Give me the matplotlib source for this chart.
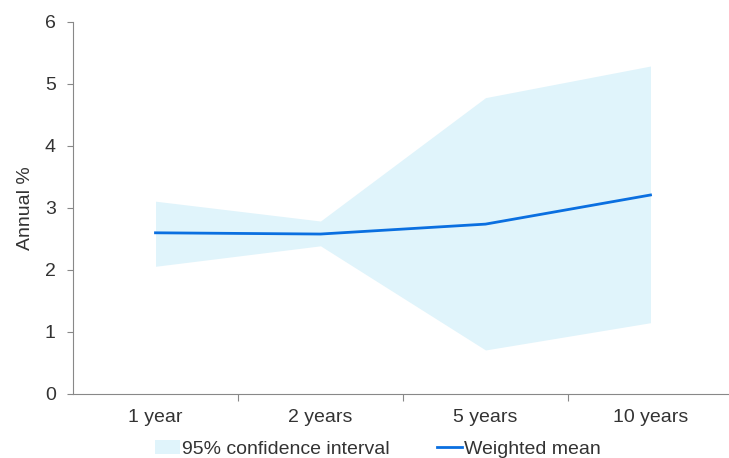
import numpy as np
import matplotlib.pyplot as plt

plt.rcParams['font.family'] = ['Liberation Sans', 'DejaVu Sans']

horizons = ['1 year', '2 years', '5 years', '10 years']
weighted_mean = [2.60, 2.58, 2.74, 3.21]
ci_upper = [3.11, 2.79, 4.78, 5.29]
ci_lower = [2.06, 2.39, 0.71, 1.15]

fig = plt.figure(figsize=(7.29, 4.58), dpi=100)
ax = fig.add_axes([73 / 729, 64 / 458, 660 / 729, 372 / 458])

x = np.arange(len(horizons))
ax.fill_between(x, ci_lower, ci_upper, color='#e0f4fb', linewidth=0,
                label='95% confidence interval')
ax.plot(x, weighted_mean, color='#0a6fe0', linewidth=2, label='Weighted mean')

ax.set_xlim(-0.5, len(horizons) - 0.5)
ax.set_ylim(0, 6)
ax.set_yticks(range(0, 7))

# labels at categories, tick marks between them
ax.set_xticks(x, minor=True)
ax.set_xticklabels(horizons, minor=True)
ax.set_xticks(x[:-1] + 0.5)
ax.set_xticklabels([])
ax.tick_params(axis='x', which='minor', length=0, pad=11, labelsize=14, labelcolor='#333333')
ax.tick_params(axis='x', which='major', length=5, color='#888888')
ax.tick_params(axis='y', length=4.5, pad=8, color='#888888', labelsize=14, labelcolor='#333333')

for side in ['top', 'right']:
    ax.spines[side].set_visible(False)
for side in ['left', 'bottom']:
    ax.spines[side].set_color('#888888')

ax.set_ylabel('Annual %', fontsize=14, color='#333333', labelpad=8)

fig.legend(loc='center', bbox_to_anchor=(378 / 729, 9 / 458), ncol=2, frameon=False,
           fontsize=14, handlelength=1.28, handletextpad=0.12, columnspacing=2.4,
           borderpad=0, labelcolor='#333333')

plt.savefig('out.png', dpi=100)
